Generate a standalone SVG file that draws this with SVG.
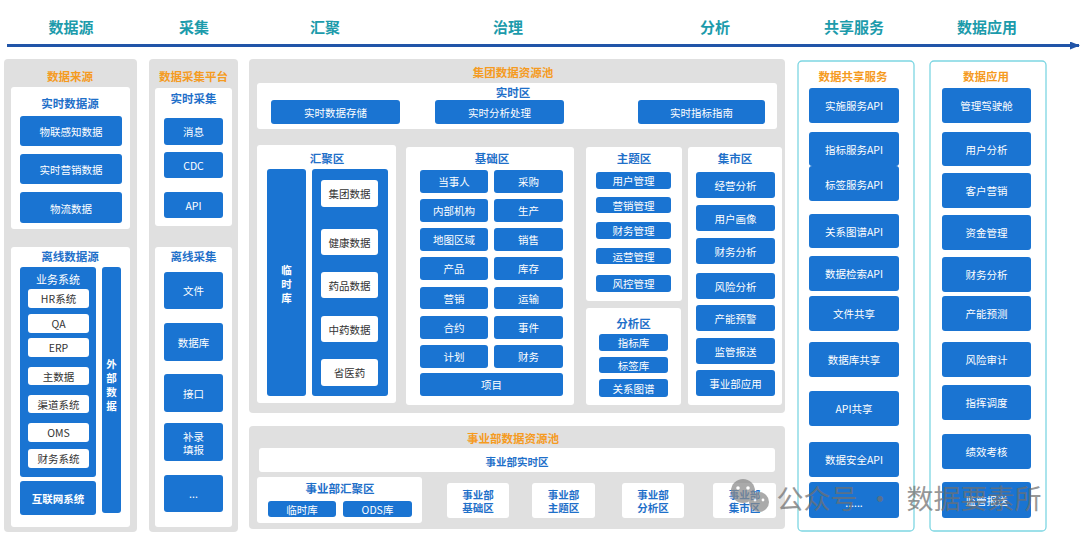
<svg xmlns="http://www.w3.org/2000/svg" width="1080" height="542" viewBox="0 0 1080 542">
<defs>
<style>
text{font-family:"Noto Sans CJK SC","Liberation Sans",sans-serif;text-anchor:middle;dominant-baseline:central}
.panel{fill:#e0e0e0}
.wbox{fill:#ffffff}
.btn{fill:#1a74d2}
.cyan{fill:#ffffff;stroke:#7dd6e2;stroke-width:1.3}
.hd{fill:#1c9bab;font-size:15px;font-weight:bold}
.tor{fill:#f59b1f;font-size:11.5px;font-weight:bold}
.tbl{fill:#1f70c9;font-size:11.5px;font-weight:bold}
.bt{fill:#ffffff;font-size:10.5px}
.btb{fill:#ffffff;font-size:10.5px;font-weight:bold}
.dk{fill:#333333;font-size:10.5px}
.sub{fill:#1f70c9;font-size:10.5px;font-weight:bold}
.wm{fill:#707070;font-size:27px}
</style>
<marker id="ah" markerWidth="10" markerHeight="8" refX="9" refY="4" orient="auto" markerUnits="userSpaceOnUse">
<path d="M0,0 L10,4 L0,8 Z" fill="#2155a8"/>
</marker>
</defs>
<rect x="0" y="0" width="1080" height="542" fill="#ffffff"/>

<g id="header">
<text class="hd" x="71" y="26">数据源</text>
<text class="hd" x="194" y="26">采集</text>
<text class="hd" x="325" y="26">汇聚</text>
<text class="hd" x="508" y="26">治理</text>
<text class="hd" x="715" y="26">分析</text>
<text class="hd" x="854" y="26">共享服务</text>
<text class="hd" x="987" y="26">数据应用</text>
</g>
<g id="connectors">
<line x1="7" y1="45.5" x2="1079" y2="45.5" stroke="#2155a8" stroke-width="3" marker-end="url(#ah)"/>
</g>

<g id="source">
<rect class="panel" x="4" y="59" width="133" height="473" rx="4"/>
<text class="tor" x="70" y="76">数据来源</text>
<rect class="wbox" x="11" y="87" width="119" height="142" rx="3"/>
<text class="tbl" x="70" y="103">实时数据源</text>
<rect class="btn" x="20" y="116" width="102" height="30" rx="3"/><text class="bt" x="71" y="131">物联感知数据</text>
<rect class="btn" x="20" y="154" width="102" height="30" rx="3"/><text class="bt" x="71" y="169">实时营销数据</text>
<rect class="btn" x="20" y="192" width="102" height="31" rx="3"/><text class="bt" x="71" y="208">物流数据</text>
<rect class="wbox" x="11" y="247" width="119" height="280" rx="3"/>
<text class="tbl" x="70" y="256">离线数据源</text>
<rect class="btn" x="20" y="267" width="76" height="210" rx="3"/>
<text class="bt" x="58" y="279" style="font-size:11px">业务系统</text>
<rect class="wbox" x="28" y="289" width="61" height="19" rx="3"/><text class="dk" x="58.5" y="298.5">HR系统</text>
<rect class="wbox" x="28" y="314" width="61" height="19" rx="3"/><text class="dk" x="58.5" y="323.5">QA</text>
<rect class="wbox" x="28" y="338" width="61" height="19" rx="3"/><text class="dk" x="58.5" y="347.5">ERP</text>
<rect class="wbox" x="28" y="367" width="61" height="18" rx="3"/><text class="dk" x="58.5" y="376">主数据</text>
<rect class="wbox" x="28" y="395" width="61" height="18" rx="3"/><text class="dk" x="58.5" y="404">渠道系统</text>
<rect class="wbox" x="28" y="423" width="61" height="19" rx="3"/><text class="dk" x="58.5" y="432.5">OMS</text>
<rect class="wbox" x="28" y="449" width="61" height="19" rx="3"/><text class="dk" x="58.5" y="458.5">财务系统</text>
<rect class="btn" x="20" y="481" width="76" height="34" rx="3"/><text class="btb" x="58" y="498">互联网系统</text>
<rect class="btn" x="102" y="267" width="19" height="246" rx="3"/>
<text class="btb" x="111.5" y="363">外</text>
<text class="btb" x="111.5" y="377">部</text>
<text class="btb" x="111.5" y="391">数</text>
<text class="btb" x="111.5" y="405">据</text>
</g>

<g id="collect">
<rect class="panel" x="149" y="59" width="89" height="473" rx="4"/>
<text class="tor" x="193.5" y="76">数据采集平台</text>
<rect class="wbox" x="155" y="88" width="77" height="138" rx="3"/>
<text class="tbl" x="193.5" y="98">实时采集</text>
<rect class="btn" x="164" y="118" width="59" height="27" rx="3"/><text class="bt" x="193.5" y="131.5">消息</text>
<rect class="btn" x="164" y="152" width="59" height="26" rx="3"/><text class="bt" x="193.5" y="165">CDC</text>
<rect class="btn" x="164" y="192" width="59" height="26" rx="3"/><text class="bt" x="193.5" y="205">API</text>
<rect class="wbox" x="155" y="247" width="77" height="280" rx="3"/>
<text class="tbl" x="193.5" y="256">离线采集</text>
<rect class="btn" x="164" y="272" width="59" height="37" rx="3"/><text class="bt" x="193.5" y="290.5">文件</text>
<rect class="btn" x="164" y="323" width="59" height="38" rx="3"/><text class="bt" x="193.5" y="342">数据库</text>
<rect class="btn" x="164" y="374" width="59" height="38" rx="3"/><text class="bt" x="193.5" y="393">接口</text>
<rect class="btn" x="164" y="423" width="59" height="38" rx="3"/><text class="bt" x="193.5" y="436">补录</text><text class="bt" x="193.5" y="449">填报</text>
<rect class="btn" x="164" y="475" width="59" height="37" rx="3"/><text class="bt" x="193.5" y="493">...</text>
</g>

<g id="group-pool">
<rect class="panel" x="249" y="59" width="536" height="354" rx="4"/>
<text class="tor" x="513" y="72">集团数据资源池</text>
<rect class="wbox" x="257" y="83" width="520" height="46" rx="3"/>
<text class="tbl" x="513" y="92">实时区</text>
<rect class="btn" x="271" y="100" width="129" height="24" rx="3"/><text class="bt" x="335.5" y="112">实时数据存储</text>
<rect class="btn" x="435" y="100" width="129" height="24" rx="3"/><text class="bt" x="499.5" y="112">实时分析处理</text>
<rect class="btn" x="638" y="100" width="127" height="24" rx="3"/><text class="bt" x="701.5" y="112">实时指标指南</text>
</g>

<g id="gather-zone">
<rect class="wbox" x="257" y="145" width="139" height="258" rx="3"/>
<text class="tbl" x="327" y="158">汇聚区</text>
<rect class="btn" x="267" y="169" width="39" height="227" rx="3"/>
<text class="btb" x="286.5" y="269">临</text>
<text class="btb" x="286.5" y="283">时</text>
<text class="btb" x="286.5" y="297">库</text>
<rect class="btn" x="312" y="169" width="76" height="227" rx="3"/>
<rect class="wbox" x="321" y="180" width="57" height="27" rx="3"/><text class="dk" x="349.5" y="193.5">集团数据</text>
<rect class="wbox" x="321" y="229" width="57" height="26" rx="3"/><text class="dk" x="349.5" y="242">健康数据</text>
<rect class="wbox" x="321" y="272" width="57" height="26" rx="3"/><text class="dk" x="349.5" y="285">药品数据</text>
<rect class="wbox" x="321" y="316" width="57" height="26" rx="3"/><text class="dk" x="349.5" y="329">中药数据</text>
<rect class="wbox" x="321" y="359" width="57" height="27" rx="3"/><text class="dk" x="349.5" y="372.5">省医药</text>
</g>

<g id="base-zone">
<rect class="wbox" x="406" y="147" width="168" height="258" rx="3"/>
<text class="tbl" x="492" y="158">基础区</text>
<rect class="btn" x="420" y="170" width="68" height="23" rx="3"/><text class="bt" x="454" y="181.5">当事人</text>
<rect class="btn" x="494" y="170" width="69" height="23" rx="3"/><text class="bt" x="528.5" y="181.5">采购</text>
<rect class="btn" x="420" y="199" width="68" height="23" rx="3"/><text class="bt" x="454" y="210.5">内部机构</text>
<rect class="btn" x="494" y="199" width="69" height="23" rx="3"/><text class="bt" x="528.5" y="210.5">生产</text>
<rect class="btn" x="420" y="228" width="68" height="23" rx="3"/><text class="bt" x="454" y="239.5">地图区域</text>
<rect class="btn" x="494" y="228" width="69" height="23" rx="3"/><text class="bt" x="528.5" y="239.5">销售</text>
<rect class="btn" x="420" y="257" width="68" height="23" rx="3"/><text class="bt" x="454" y="268.5">产品</text>
<rect class="btn" x="494" y="257" width="69" height="23" rx="3"/><text class="bt" x="528.5" y="268.5">库存</text>
<rect class="btn" x="420" y="287" width="68" height="22" rx="3"/><text class="bt" x="454" y="298">营销</text>
<rect class="btn" x="494" y="287" width="69" height="22" rx="3"/><text class="bt" x="528.5" y="298">运输</text>
<rect class="btn" x="420" y="316" width="68" height="23" rx="3"/><text class="bt" x="454" y="327.5">合约</text>
<rect class="btn" x="494" y="316" width="69" height="23" rx="3"/><text class="bt" x="528.5" y="327.5">事件</text>
<rect class="btn" x="420" y="345" width="68" height="23" rx="3"/><text class="bt" x="454" y="356.5">计划</text>
<rect class="btn" x="494" y="345" width="69" height="23" rx="3"/><text class="bt" x="528.5" y="356.5">财务</text>
<rect class="btn" x="420" y="373" width="143" height="23" rx="3"/><text class="bt" x="491.5" y="384.5">项目</text>
</g>

<g id="topic-zone">
<rect class="wbox" x="586" y="147" width="96" height="154" rx="3"/>
<text class="tbl" x="634" y="158">主题区</text>
<rect class="btn" x="596" y="172" width="75" height="17" rx="3"/><text class="bt" x="633.5" y="180.5">用户管理</text>
<rect class="btn" x="596" y="197" width="75" height="16" rx="3"/><text class="bt" x="633.5" y="205">营销管理</text>
<rect class="btn" x="596" y="222" width="75" height="17" rx="3"/><text class="bt" x="633.5" y="230.5">财务管理</text>
<rect class="btn" x="596" y="248" width="75" height="16" rx="3"/><text class="bt" x="633.5" y="256">运营管理</text>
<rect class="btn" x="596" y="275" width="75" height="17" rx="3"/><text class="bt" x="633.5" y="283.5">风控管理</text>
</g>

<g id="analysis-zone">
<rect class="wbox" x="586" y="308" width="95" height="97" rx="3"/>
<text class="tbl" x="633.5" y="323">分析区</text>
<rect class="btn" x="599" y="334" width="69" height="17" rx="3"/><text class="bt" x="633.5" y="342.5">指标库</text>
<rect class="btn" x="599" y="357" width="69" height="16" rx="3"/><text class="bt" x="633.5" y="365">标签库</text>
<rect class="btn" x="599" y="379" width="69" height="18" rx="3"/><text class="bt" x="633.5" y="388">关系图谱</text>
</g>

<g id="mart-zone">
<rect class="wbox" x="688" y="147" width="94" height="258" rx="3"/>
<text class="tbl" x="735" y="158">集市区</text>
<rect class="btn" x="696" y="172" width="79" height="26" rx="3"/><text class="bt" x="735.5" y="185">经营分析</text>
<rect class="btn" x="696" y="205" width="79" height="26" rx="3"/><text class="bt" x="735.5" y="218">用户画像</text>
<rect class="btn" x="696" y="238" width="79" height="26" rx="3"/><text class="bt" x="735.5" y="251">财务分析</text>
<rect class="btn" x="696" y="273" width="79" height="26" rx="3"/><text class="bt" x="735.5" y="286">风险分析</text>
<rect class="btn" x="696" y="305" width="79" height="26" rx="3"/><text class="bt" x="735.5" y="318">产能预警</text>
<rect class="btn" x="696" y="338" width="79" height="26" rx="3"/><text class="bt" x="735.5" y="351">监管报送</text>
<rect class="btn" x="696" y="370" width="79" height="26" rx="3"/><text class="bt" x="735.5" y="383">事业部应用</text>
</g>

<g id="bu-pool">
<rect class="panel" x="249" y="426" width="536" height="103" rx="4"/>
<text class="tor" x="513" y="438">事业部数据资源池</text>
<rect class="wbox" x="259" y="448" width="516" height="24" rx="3"/>
<text class="sub" x="517" y="461">事业部实时区</text>
<rect class="wbox" x="257" y="477" width="165" height="46" rx="3"/>
<text class="tbl" x="340" y="488">事业部汇聚区</text>
<rect class="btn" x="268" y="501" width="68" height="16" rx="3"/><text class="bt" x="302" y="509">临时库</text>
<rect class="btn" x="343" y="501" width="69" height="16" rx="3"/><text class="bt" x="377.5" y="509">ODS库</text>
<rect class="wbox" x="447" y="483" width="62" height="35" rx="3"/><text class="sub" x="478" y="494.5">事业部</text><text class="sub" x="478" y="507.5">基础区</text>
<rect class="wbox" x="532" y="483" width="63" height="35" rx="3"/><text class="sub" x="563.5" y="494.5">事业部</text><text class="sub" x="563.5" y="507.5">主题区</text>
<rect class="wbox" x="622" y="483" width="62" height="35" rx="3"/><text class="sub" x="653" y="494.5">事业部</text><text class="sub" x="653" y="507.5">分析区</text>
<rect class="wbox" x="713" y="483" width="63" height="35" rx="3"/><text class="sub" x="744.5" y="494.5">事业部</text><text class="sub" x="744.5" y="507.5">集市区</text>
</g>

<g id="share-service">
<rect class="cyan" x="798" y="61" width="116" height="470" rx="4"/>
<text class="tor" x="853" y="76">数据共享服务</text>
<rect class="btn" x="809" y="88" width="90" height="35" rx="3"/><text class="bt" x="854" y="105.5">实施服务API</text>
<rect class="btn" x="809" y="132" width="90" height="34" rx="3"/><text class="bt" x="854" y="149">指标服务API</text>
<rect class="btn" x="809" y="166" width="90" height="35" rx="3"/><text class="bt" x="854" y="184">标签服务API</text>
<rect class="btn" x="809" y="214" width="90" height="34" rx="3"/><text class="bt" x="854" y="231">关系图谱API</text>
<rect class="btn" x="809" y="256" width="90" height="35" rx="3"/><text class="bt" x="854" y="273.5">数据检索API</text>
<rect class="btn" x="809" y="296" width="90" height="35" rx="3"/><text class="bt" x="854" y="313.5">文件共享</text>
<rect class="btn" x="809" y="342" width="90" height="35" rx="3"/><text class="bt" x="854" y="359.5">数据库共享</text>
<rect class="btn" x="809" y="391" width="90" height="35" rx="3"/><text class="bt" x="854" y="408.5">API共享</text>
<rect class="btn" x="809" y="442" width="90" height="35" rx="3"/><text class="bt" x="854" y="459.5">数据安全API</text>
<rect class="btn" x="809" y="482" width="90" height="36" rx="3"/><text class="bt" x="854" y="502">......</text>
</g>

<g id="data-app">
<rect class="cyan" x="930" y="61" width="116" height="470" rx="4"/>
<text class="tor" x="986" y="76">数据应用</text>
<rect class="btn" x="942" y="88" width="89" height="35" rx="3"/><text class="bt" x="986.5" y="105.5">管理驾驶舱</text>
<rect class="btn" x="942" y="132" width="89" height="34" rx="3"/><text class="bt" x="986.5" y="149">用户分析</text>
<rect class="btn" x="942" y="173" width="89" height="35" rx="3"/><text class="bt" x="986.5" y="190.5">客户营销</text>
<rect class="btn" x="942" y="215" width="89" height="35" rx="3"/><text class="bt" x="986.5" y="232.5">资金管理</text>
<rect class="btn" x="942" y="257" width="89" height="35" rx="3"/><text class="bt" x="986.5" y="274.5">财务分析</text>
<rect class="btn" x="942" y="296" width="89" height="35" rx="3"/><text class="bt" x="986.5" y="313.5">产能预测</text>
<rect class="btn" x="942" y="342" width="89" height="35" rx="3"/><text class="bt" x="986.5" y="359.5">风险审计</text>
<rect class="btn" x="942" y="385" width="89" height="35" rx="3"/><text class="bt" x="986.5" y="402.5">指挥调度</text>
<rect class="btn" x="942" y="434" width="89" height="35" rx="3"/><text class="bt" x="986.5" y="451.5">绩效考核</text>
<rect class="btn" x="942" y="482" width="89" height="36" rx="3"/><text class="bt" x="986.5" y="500">监管报送</text>
</g>

<g id="watermark" opacity="0.72">
<circle cx="743" cy="491" r="12" fill="#8a8a8a"/>
<circle cx="759" cy="502" r="10" fill="#8a8a8a"/>
<circle cx="738" cy="488" r="1.8" fill="#ffffff"/>
<circle cx="748" cy="488" r="1.8" fill="#ffffff"/>
<circle cx="755" cy="500" r="1.4" fill="#ffffff"/>
<circle cx="763" cy="500" r="1.4" fill="#ffffff"/>
<text class="wm" x="817" y="497">公众号</text>
<text class="wm" x="880" y="497">·</text>
<text class="wm" x="974" y="497">数据要素所</text>
</g>
</svg>
